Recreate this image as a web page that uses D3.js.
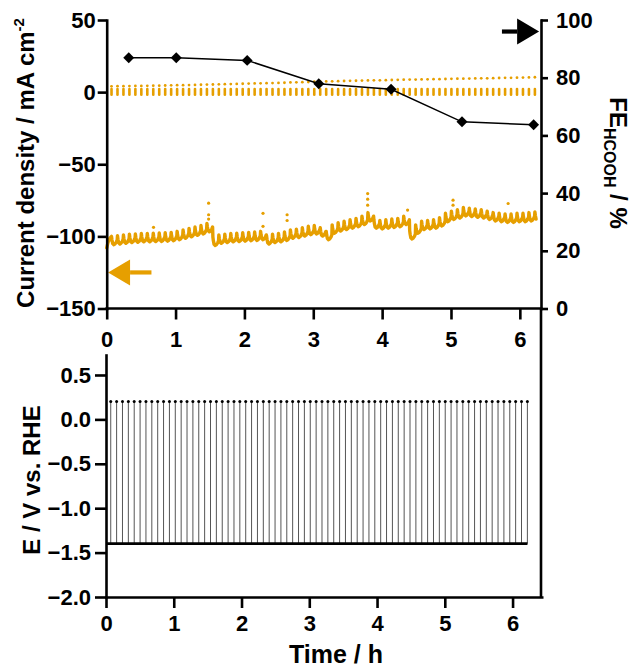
<!DOCTYPE html>
<html><head><meta charset="utf-8">
<script src="https://cdn.jsdelivr.net/npm/d3@7"></script>
<style>
html,body{margin:0;padding:0;background:#fff;}
svg text{font-family:"Liberation Sans",Arial,Helvetica,sans-serif;font-weight:bold;fill:#000;}
</style></head>
<body>
<svg id="chart" width="633" height="668"></svg>
<script>
// ---------------- data ----------------
const ORANGE = "#E69F00";
// pulse times (h) - regular pulse grid
const pulseCount = 72, pulseStart = 0.07, pulsePeriod = 0.0866;
const pulseTimes = d3.range(pulseCount).map(i => pulseStart + i * pulsePeriod);

// FE of HCOOH (%), right axis
const feTimes = [0.32, 1.01, 2.04, 3.08, 4.13, 5.16, 6.20];
const feValues = [86.9, 86.9, 86.0, 77.9, 76.0, 64.7, 63.7];

// cathodic current baseline per pulse cycle (mA cm-2)
const cycleBase = [
 -103.0,-102.5,-102.0,-101.5,-101.3,-101.0,-101.0,-100.8,-100.7,-100.5,
 -100.2,-99.5,-98.5,-97.5,-96.5,-95.5,-94.0,-103.5,-102.0,-101.5,
 -101.0,-100.8,-100.5,-100.2,-100.0,-99.5,-102.5,-101.5,-101.0,-100.0,
 -98.5,-98.0,-97.0,-96.0,-95.5,-97.0,-99.5,-95.0,-93.5,-92.5,
 -91.5,-90.5,-89.0,-86.5,-91.5,-92.0,-91.5,-91.0,-90.5,-89.0,
 -99.0,-95.0,-92.5,-92.0,-91.5,-90.0,-87.0,-85.5,-84.5,-83.0,
 -83.5,-84.0,-84.5,-85.5,-86.5,-87.0,-87.5,-87.5,-87.0,-87.0,
 -86.5,-86.0];
// within-cycle profile: [fraction of period, offset mA cm-2]
const cycleShape = [[0.0,3.0],[0.08,0.5],[0.2,-2.0],[0.4,-2.8],[0.6,-2.2],[0.8,-1.0],[0.95,0.5]];
// start of the record before the first pulse
const startTrace = [[0.0,-108],[0.02,-104],[0.05,-101]];
// isolated current points (spikes)
const spikePoints = [
 [0.68,-93.7],[1.48,-77],[1.48,-85],[1.48,-88],[2.27,-84],[2.27,-93],
 [2.62,-85],[2.62,-89],[3.79,-70.3],[3.79,-74.2],[3.79,-78.4],[4.37,-81.8],
 [5.03,-74.9],[5.03,-78.4],[5.83,-77.2]];
// anodic pulse current: top dot per pulse and short bar range
const pulseTop = [
 4.0,4.1,4.1,4.2,4.3,4.3,4.4,4.5,4.5,4.6,4.7,4.8,4.8,4.9,5.0,5.1,5.2,5.3,5.4,5.5,
 5.6,5.7,5.8,5.9,6.0,6.1,6.2,6.3,6.4,6.5,6.7,6.8,6.9,7.0,7.2,7.3,
 7.4,7.5,7.6,7.7,7.8,7.9,8.0,8.1,8.2,8.2,8.3,8.4,8.5,8.6,8.7,8.7,8.8,8.9,9.0,9.0,
 9.1,9.2,9.3,9.3,9.4,9.5,9.6,9.6,9.7,9.8,9.9,9.9,10.0,10.1,10.2,10.3];
const pulseBarHigh = 2.2, pulseBarLow = -1.8;

// potential program (V vs RHE)
const potentialLow = -1.4, potentialHigh = 0.2, potentialEnd = 6.22;

// ticks
const xTicks = [0,1,2,3,4,5,6];
const jTicks = [-150,-100,-50,0,50];
const feTicks = [0,20,40,60,80,100];
const eTicks = [-2.0,-1.5,-1.0,-0.5,0.0,0.5];

// ---------------- layout ----------------
const svg = d3.select("#chart");
const xTop = d3.scaleLinear().domain([0,6.3]).range([106.7,540.5]);
const yJ = d3.scaleLinear().domain([-150,50]).range([308.5,20]);
const yFE = d3.scaleLinear().domain([0,100]).range([308.5,20]);
const xBot = d3.scaleLinear().domain([0,6.43]).range([106,541.7]);
const yE = d3.scaleLinear().domain([-2.0,0.725]).range([597,355]);
const TICK_FS = 22;

function styleAxis(g, fs){
  g.selectAll("path,line").attr("stroke","#000").attr("stroke-width",2.6);
  g.select(".domain").attr("stroke-linecap","square");
  g.selectAll("text").attr("font-size",fs).attr("fill","#000");
}

// ---------- top panel ----------
const topG = svg.append("g");
topG.append("g").selectAll("line").data(pulseTimes).join("line")
  .attr("x1",d=>xTop(d)).attr("x2",d=>xTop(d))
  .attr("y1",yJ(pulseBarHigh)).attr("y2",yJ(pulseBarLow))
  .attr("stroke",ORANGE).attr("stroke-width",2.6).attr("stroke-linecap","round");
topG.append("g").selectAll("circle").data(pulseTimes).join("circle")
  .attr("cx",d=>xTop(d)).attr("cy",(d,i)=>yJ(pulseTop[i])).attr("r",1.4).attr("fill",ORANGE);

// cathodic trace
const trace = startTrace.slice();
pulseTimes.forEach((t,i)=>{
  cycleShape.forEach(([f,dv])=>{
    if (i===pulseCount-1 && f>0.3) return;
    trace.push([t+f*pulsePeriod, cycleBase[i]+dv]);
  });
});
const lineJ = d3.line().x(d=>xTop(d[0])).y(d=>yJ(d[1]));
topG.append("path").datum(trace).attr("d",lineJ)
  .attr("fill","none").attr("stroke",ORANGE).attr("stroke-width",3.4)
  .attr("stroke-linejoin","round").attr("stroke-linecap","round");
topG.append("g").selectAll("circle").data(spikePoints).join("circle")
  .attr("cx",d=>xTop(d[0])).attr("cy",d=>yJ(d[1])).attr("r",1.6).attr("fill",ORANGE);

// FE line + diamonds
const feData = feTimes.map((t,i)=>[t,feValues[i]]);
topG.append("path").datum(feData)
  .attr("d",d3.line().x(d=>xTop(d[0])).y(d=>yFE(d[1])))
  .attr("fill","none").attr("stroke","#000").attr("stroke-width",1.5);
topG.append("g").selectAll("path").data(feData).join("path")
  .attr("d",d3.symbol(d3.symbolSquare,60))
  .attr("transform",d=>`translate(${xTop(d[0])},${yFE(d[1])}) rotate(45)`)
  .attr("fill","#000");

// arrows
function arrow(g, x0, x1, y, dir, color){
  const headLen = 22*dir, headHalf = 13;
  g.append("line").attr("x1",x0).attr("x2",x1-headLen).attr("y1",y).attr("y2",y)
    .attr("stroke",color).attr("stroke-width",4.2);
  g.append("path").attr("d",`M${x1},${y} L${x1-headLen},${y-headHalf} L${x1-headLen},${y+headHalf} Z`)
    .attr("fill",color);
}
arrow(topG, xTop(5.74), xTop(6.28), yFE(96), 1, "#000");
arrow(topG, xTop(0.65), xTop(0.02), yJ(-125), -1, ORANGE);

// axes
const axL = topG.append("g").attr("transform",`translate(${xTop(0)},0)`)
  .call(d3.axisLeft(yJ).tickValues(jTicks).tickSize(9).tickPadding(2).tickSizeOuter(0));
styleAxis(axL,TICK_FS);
const axR = topG.append("g").attr("transform",`translate(541,0)`)
  .call(d3.axisRight(yFE).tickValues(feTicks).tickSize(7).tickPadding(8).tickSizeOuter(0));
styleAxis(axR,TICK_FS);
const axB = topG.append("g").attr("transform",`translate(0,${yJ(-150)})`)
  .call(d3.axisBottom(xTop).tickValues(xTicks).tickFormat(d3.format("d")).tickSize(11).tickPadding(12).tickSizeOuter(0));
axB.select(".domain").attr("d",`M${xTop(0)},0H541`);
styleAxis(axB,TICK_FS);
svg.append("line").attr("x1",541).attr("x2",541).attr("y1",yFE(0)).attr("y2",yE(-2.0))
  .attr("stroke","#000").attr("stroke-width",2.6);

// titles
const t1 = svg.append("text").attr("transform",`translate(34,163) rotate(-90)`)
  .attr("text-anchor","middle").attr("font-size",24);
t1.append("tspan").text("Current density / mA cm");
t1.append("tspan").text("-2").attr("font-size",15).attr("dy",-10);
const t2 = svg.append("text").attr("transform",`translate(610,163) rotate(90)`)
  .attr("text-anchor","middle").attr("font-size",24);
t2.append("tspan").text("FE");
t2.append("tspan").text("HCOOH").attr("font-size",16).attr("dy",6);
t2.append("tspan").text(" / %").attr("dy",-6);

// ---------- bottom panel ----------
const botG = svg.append("g");
botG.append("g").selectAll("line").data(pulseTimes).join("line")
  .attr("x1",d=>xBot(d)).attr("x2",d=>xBot(d))
  .attr("y1",yE(potentialLow)).attr("y2",yE(potentialHigh))
  .attr("stroke","#555").attr("stroke-width",1);
botG.append("g").selectAll("circle").data(pulseTimes).join("circle")
  .attr("cx",d=>xBot(d)).attr("cy",yE(potentialHigh)).attr("r",1.5).attr("fill","#000");
botG.append("line").attr("x1",xBot(0)).attr("x2",xBot(potentialEnd))
  .attr("y1",yE(potentialLow)).attr("y2",yE(potentialLow))
  .attr("stroke","#000").attr("stroke-width",2.8);

const bL = botG.append("g").attr("transform",`translate(${xBot(0)},0)`)
  .call(d3.axisLeft(yE).tickValues(eTicks).tickFormat(d3.format(".1f")).tickSize(11).tickPadding(4).tickSizeOuter(0));
styleAxis(bL,TICK_FS);
const bB = botG.append("g").attr("transform",`translate(0,${yE(-2.0)})`)
  .call(d3.axisBottom(xBot).tickValues(xTicks).tickFormat(d3.format("d")).tickSize(11).tickPadding(7).tickSizeOuter(0));
styleAxis(bB,TICK_FS);

svg.append("text").attr("transform",`translate(40,480) rotate(-90)`)
  .attr("text-anchor","middle").attr("font-size",24).text("E / V vs. RHE");
svg.append("text").attr("x",336).attr("y",663)
  .attr("text-anchor","middle").attr("font-size",25).text("Time / h");
</script>
</body></html>
